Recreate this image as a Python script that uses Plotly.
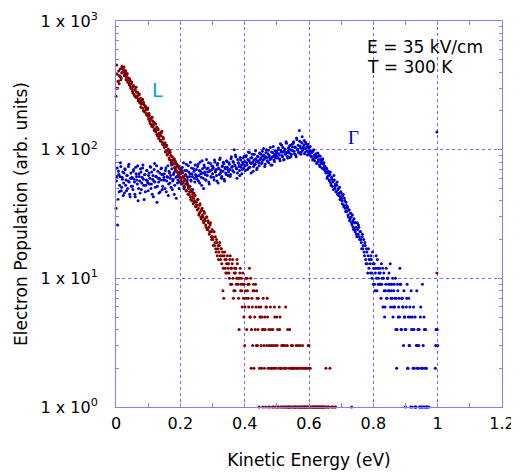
import plotly.graph_objects as go

# histogram bins (eV); the "_b" runs sit half a bin later
bin_width = 0.0025

# L valley electrons, counts per bin starting at 0 eV
l_counts = [
    260, 455, 300, 340, 325, 370, 350, 395, 430, 405, 440, 385, 410, 365, 390, 345, 330, 355, 310, 325,
    298, 276, 315, 262, 289, 305, 254, 280, 246, 271, 238, 214, 229, 247, 201, 222, 195, 213, 186, 205,
    181, 192, 166, 174, 157, 179, 150, 163, 145, 158, 141, 132, 146, 122, 135, 117, 128, 139, 110, 121,
    104, 113, 97, 108, 92, 101, 86, 98, 90, 82, 88, 79, 84, 73, 81, 69, 76, 66, 72, 61,
    65, 58, 69, 55, 61, 51, 59, 63, 48, 54, 50, 45, 52, 41, 47, 43, 38, 46, 40, 36,
    39, 34, 41, 31, 37, 33, 29, 35, 30, 27, 32, 28, 25, 30, 24, 27, 22, 26, 23, 20,
    21, 18, 23, 19, 17, 20, 15, 18, 16, 19, 14, 17, 15, 8, 7, 16, 12, 14, 11, 13,
    13, 10, 15, 12, 9, 14, 7, 11, 8, 12, 10, 13, 9, 4, 11, 8, 10, 6, 9, 5,
    3, 8, 7, 10, 9, 6, 12, 5, 2, 7, 3, 9, 8, 4, 6, 8, 3, 7, 1, 5,
    6, 2, 4, 7, 3, 5, 1, 6, 7, 2, 4, 1, 6, 3, 2, 4, 1, 6, 3, 2,
    5, 4, 1, 6, 5, 2, 3, 1, 3, 1, 2, 6, 2, 3, 1, 1, 4, 1, 3, 2,
    1, 2, 1, 1, 3, 1, 2, 1, 1, 3, 1, 2, 3, 1, 2, 1, 1, 2, 1, 3,
    3, 1, 1, 0, 1, 1, 0, 1, 1, 0, 1, 1, 1, 1, 0, 1, 0, 1, 1, 0,
    1, 2, 0, 0, 1, 0, 2, 0, 0, 0, 1, 0, 0, 1, 0, 0, 0, 0, 0, 0,
    0, 0, 0, 0, 0, 0, 0, 0, 0, 0, 0, 0, 0, 1,
]
l_counts_b = [
    300, 385, 340, 410, 375, 425, 360, 445, 400, 420, 375, 395, 350, 380, 335, 360, 320, 345, 300, 335,
    285, 310, 268, 293, 255, 279, 262, 240, 266, 232, 251, 225, 240, 210, 233, 199, 218, 205, 190, 211,
    172, 185, 160, 176, 152, 168, 156, 141, 160, 137, 150, 128, 143, 126, 132, 119, 136, 114, 125, 108,
    110, 96, 106, 91, 99, 94, 84, 95, 79, 88, 83, 77, 85, 71, 79, 74, 67, 75, 64, 70,
    61, 67, 56, 62, 52, 58, 54, 48, 56, 45, 51, 47, 43, 49, 40, 45, 42, 39, 44, 37,
    37, 41, 35, 32, 38, 30, 34, 31, 28, 33, 29, 26, 30, 24, 28, 25, 23, 27, 21, 24,
    20, 23, 18, 21, 16, 19, 17, 14, 18, 15, 17, 13, 16, 12, 15, 14, 11, 13, 15, 12,
    11, 14, 9, 12, 13, 10, 8, 12, 11, 9, 14, 10, 7, 10, 12, 9, 8, 11, 7, 9,
    6, 10, 4, 8, 7, 9, 5, 10, 4, 6, 8, 2, 5, 9, 3, 7, 4, 6, 2, 5,
    3, 5, 1, 4, 2, 4, 6, 3, 5, 1, 3, 2, 4, 2, 1, 3, 2, 5, 1, 1,
    3, 1, 2, 4, 1, 2, 1, 3, 2, 1, 3, 1, 1, 4, 1, 2, 1, 2, 1, 3,
    2, 1, 1, 2, 1, 2, 3, 1, 2, 1, 1, 1, 1, 2, 1, 1, 2, 1, 1, 2,
    1, 2, 0, 1, 1, 0, 1, 1, 0, 1, 1, 0, 1, 0, 1, 1, 1, 1, 0, 1,
    0, 1, 0, 1, 1, 0, 0, 1, 0, 1, 0, 0, 1, 0, 0, 0,
]
l_stray_energy = [0.9975]
l_stray_count = [11]

# Gamma valley electrons, counts per bin starting at 0 eV
gamma_counts = [
    35, 62, 26, 68, 47, 62, 74, 51, 59, 44, 66, 71, 53, 48, 63, 57, 77, 45, 60, 52,
    61, 49, 70, 56, 43, 65, 58, 75, 50, 62, 46, 67, 55, 72, 59, 41, 64, 53, 69, 57,
    48, 66, 60, 73, 54, 45, 63, 57, 78, 51, 62, 39, 68, 56, 60, 47, 71, 64, 52, 58,
    65, 50, 72, 57, 61, 44, 68, 55, 63, 76, 49, 59, 66, 53, 70, 42, 62, 58, 74, 56,
    60, 71, 54, 66, 79, 57, 63, 48, 69, 61, 75, 52, 65, 58, 72, 62, 46, 68, 56, 64,
    70, 59, 77, 63, 55, 68, 61, 82, 66, 50, 73, 64, 58, 71, 67, 79, 54, 69, 62, 75,
    65, 72, 58, 80, 69, 63, 76, 55, 71, 84, 66, 60, 74, 68, 78, 57, 73, 64, 81, 70,
    67, 77, 62, 85, 73, 69, 80, 100, 75, 88, 71, 66, 79, 74, 63, 83, 76, 70, 86, 72,
    81, 69, 90, 76, 84, 72, 95, 79, 66, 87, 80, 74, 92, 77, 85, 70, 89, 82, 75, 93,
    86, 78, 97, 83, 91, 74, 88, 100, 82, 93, 79, 87, 104, 85, 76, 95, 89, 81, 98, 90,
    94, 86, 103, 91, 82, 99, 108, 88, 96, 84, 101, 93, 112, 89, 97, 105, 87, 100, 92, 110,
    98, 115, 93, 104, 88, 120, 101, 96, 141, 107, 92, 113, 99, 105, 118, 95, 102, 110, 91, 106,
    103, 92, 98, 88, 96, 85, 100, 82, 91, 87, 79, 94, 84, 76, 89, 80, 72, 85, 77, 70,
    74, 66, 71, 62, 68, 58, 64, 55, 61, 52, 57, 63, 50, 54, 47, 56, 49, 44, 51, 43,
    46, 40, 44, 37, 42, 35, 39, 33, 36, 30, 34, 29, 32, 27, 31, 25, 29, 24, 27, 22,
    27, 22, 25, 20, 23, 19, 21, 17, 20, 15, 18, 13, 16, 11, 17, 14, 13, 15, 11, 16,
    9, 13, 8, 12, 10, 14, 9, 11, 12, 9, 13, 10, 6, 11, 5, 8, 12, 7, 10, 9,
    8, 13, 7, 9, 10, 6, 9, 7, 4, 2, 9, 5, 7, 12, 9, 4, 7, 6, 8, 5,
    1, 6, 9, 2, 7, 3, 5, 8, 1, 4, 6, 2, 5, 1, 8, 3, 2, 4, 1, 6,
    1, 9, 3, 5, 1, 4, 2, 1, 0, 1, 0, 0, 0, 0, 0, 0, 0, 2, 4, 137,
    3,
]
gamma_counts_b = [
    57, 72, 41, 64, 53, 79, 48, 61, 67, 55, 46, 70, 58, 63, 50, 74, 56, 43, 66, 60,
    52, 68, 59, 45, 73, 62, 54, 40, 65, 57, 71, 49, 61, 76, 53, 64, 47, 58, 69, 55,
    63, 54, 74, 50, 67, 59, 43, 70, 56, 62, 75, 52, 60, 46, 66, 58, 72, 49, 64, 61,
    58, 69, 47, 62, 75, 54, 66, 60, 51, 71, 57, 64, 45, 68, 61, 77, 55, 63, 50, 67,
    66, 55, 73, 61, 50, 69, 64, 77, 58, 53, 67, 62, 80, 57, 65, 49, 71, 60, 76, 63,
    62, 74, 57, 69, 80, 65, 53, 71, 60, 76, 67, 58, 84, 63, 72, 56, 68, 78, 61, 70,
    74, 61, 83, 67, 70, 57, 78, 72, 64, 86, 69, 62, 75, 80, 59, 71, 66, 82, 73, 63,
    79, 70, 64, 88, 74, 81, 67, 76, 91, 72, 60, 84, 78, 69, 87, 73, 65, 80, 77, 89,
    75, 88, 79, 70, 96, 82, 73, 86, 78, 92, 68, 83, 77, 98, 81, 72, 88, 79, 94, 84,
    92, 80, 89, 102, 85, 77, 95, 87, 81, 99, 90, 84, 76, 96, 88, 106, 83, 92, 86, 97,
    88, 100, 93, 85, 111, 96, 90, 104, 83, 98, 92, 115, 95, 86, 102, 94, 108, 89, 99, 105,
    112, 97, 105, 91, 123, 100, 108, 94, 116, 103, 96, 126, 101, 109, 93, 114, 104, 98, 110, 95,
    97, 106, 89, 95, 83, 99, 90, 86, 93, 78, 88, 81, 90, 74, 84, 78, 82, 71, 79, 74,
    68, 72, 60, 66, 63, 57, 67, 53, 59, 56, 49, 58, 52, 47, 53, 45, 50, 46, 41, 47,
    42, 38, 45, 36, 40, 33, 37, 35, 31, 34, 28, 32, 30, 26, 28, 24, 27, 23, 25, 21,
    24, 26, 21, 23, 20, 17, 22, 18, 16, 19, 14, 17, 13, 15, 12, 14, 11, 14, 10, 13,
    12, 9, 11, 15, 8, 12, 10, 9, 11, 7, 9, 12, 10, 8, 6, 9, 7, 10, 8, 11,
    9, 6, 8, 7, 5, 8, 6, 10, 7, 4, 8, 6, 5, 9, 4, 7, 6, 3, 5, 4,
    4, 7, 2, 5, 3, 6, 1, 4, 5, 2, 4, 1, 1, 3, 2, 4, 3, 1, 5, 2,
    1, 2, 1, 4, 2, 1, 1, 0, 0, 0, 0, 0, 0, 0, 0, 0, 0, 3, 0, 4,
]

y_tick_vals = [1, 10, 100, 1000]
y_tick_text = ["1 x 10<sup>0</sup>", "1 x 10<sup>1</sup>", "1 x 10<sup>2</sup>", "1 x 10<sup>3</sup>"]


def as_points(counts, shift):
    x = [round((i + shift) * bin_width, 5) for i in range(len(counts))]
    y = [c if c > 0 else None for c in counts]
    return x, y


gxa, gya = as_points(gamma_counts, 0)
gxb, gyb = as_points(gamma_counts_b, 0.5)
lxa, lya = as_points(l_counts, 0)
lxb, lyb = as_points(l_counts_b, 0.5)

fig = go.Figure()
fig.add_trace(go.Scatter(x=gxa + gxb, y=gya + gyb, mode="markers", cliponaxis=False,
                         marker=dict(size=3, color="#0000d0", line=dict(width=0))))
fig.add_trace(go.Scatter(x=lxa + lxb + l_stray_energy, y=lya + lyb + l_stray_count,
                         mode="markers", cliponaxis=False,
                         marker=dict(size=3, color="#800000", line=dict(width=0))))

axis_blue = "#8080ff"
grid_blue = "#6c6cff"

fig.update_xaxes(range=[0, 1.2], dtick=0.2, tick0=0, automargin=False,
                 ticks="inside", ticklen=4, tickcolor=axis_blue,
                 showline=True, linecolor=axis_blue, linewidth=1, mirror="allticks",
                 showgrid=True, gridcolor=grid_blue, griddash="dot", gridwidth=1, zeroline=False,
                 minor=dict(dtick=0.1, ticks="inside", ticklen=4, tickcolor=axis_blue, showgrid=False),
                 tickfont=dict(size=16), ticklabelstandoff=2,
                 title=dict(text="Kinetic Energy (eV)", font=dict(size=17), standoff=21))
fig.update_yaxes(type="log", range=[0, 3], tickvals=y_tick_vals, ticktext=y_tick_text, automargin=False,
                 ticks="inside", ticklen=4, tickcolor=axis_blue,
                 showline=True, linecolor=axis_blue, linewidth=1, mirror="allticks",
                 showgrid=True, gridcolor=grid_blue, griddash="dot", gridwidth=1, zeroline=False,
                 minor=dict(dtick="D1", ticks="inside", ticklen=3, tickcolor=axis_blue, showgrid=False),
                 tickfont=dict(size=16), ticklabelstandoff=14,
                 title=dict(text="Electron Population (arb. units)", font=dict(size=17), standoff=8))

fig.add_annotation(x=0.13, y=2.46, text="L", showarrow=False,
                   font=dict(size=19, color="#00a0e6"))
fig.add_annotation(x=0.739, y=2.095, text="Γ", showarrow=False,
                   font=dict(family="Liberation Serif", size=19, color="#0000c0"))
fig.add_annotation(x=0.773, y=2.80, text="E = 35 kV/cm", showarrow=False, xanchor="left",
                   font=dict(size=17, color="black"))
fig.add_annotation(x=0.773, y=2.644, text="T = 300 K", showarrow=False, xanchor="left",
                   font=dict(size=17, color="black"))

# the page body adds an 8 px offset, so the figure is 8 px smaller
fig.update_layout(width=511, height=466, margin=dict(l=108, r=17, t=13, b=67),
                  paper_bgcolor="white", plot_bgcolor="white", showlegend=False,
                  font=dict(family="DejaVu Sans", size=16, color="black"))

fig.write_html("out.html")
